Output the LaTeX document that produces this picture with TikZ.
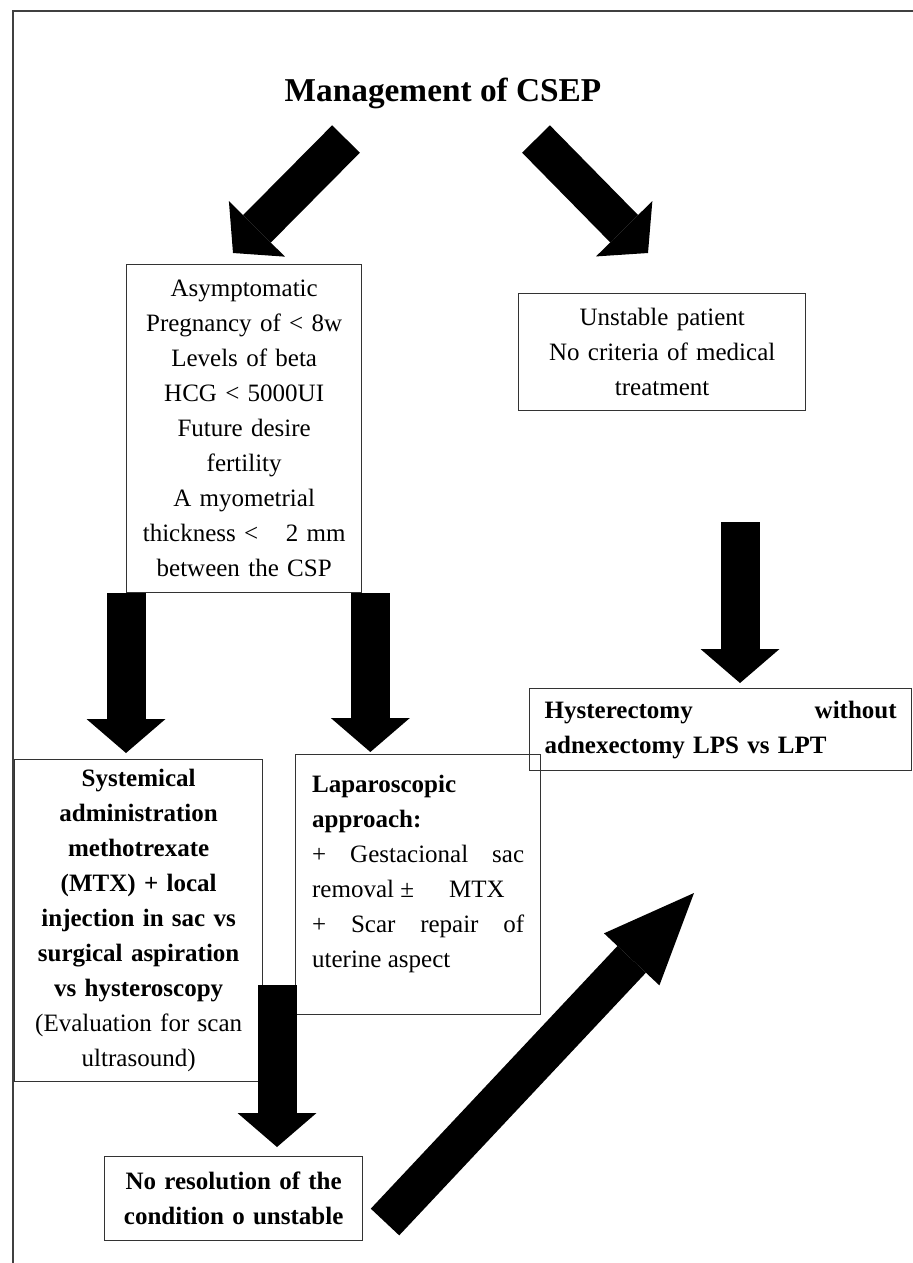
\documentclass[tikz,border=0pt]{standalone}
\usepackage{fontspec}
\setmainfont{Liberation Serif}
\usetikzlibrary{arrows.meta,calc,positioning}

\tikzset{
  box/.style={draw=black!80, line width=0.8pt, inner ysep=0pt, anchor=north west,
    font=\fontsize{15}{21}\selectfont},
  fat/.style={line width=23.4pt, -{Triangle[length=20.4pt, width=47.4pt, line width=0pt]}},
  bigfat/.style={line width=23.4pt, -{Triangle[length=54.6pt, width=45.6pt, line width=0pt]}},
}

\begin{document}
\begin{tikzpicture}[x=0.6pt, y=-0.6pt]
\useasboundingbox (0,0) rectangle (913,1263);
% page frame (top and left only)
\draw[black!75, line width=0.8pt] (13,1263) -- (13,11) -- (913,11);

% title
\node[font=\bfseries\fontsize{20}{24}\selectfont, anchor=base] (title) at (443,101) {Management of CSEP};

% boxes
\node[box, minimum width=141pt, minimum height=196.8pt, text width=134pt, align=center] (asym) at (126,264)
  {Asymptomatic\\ Pregnancy of < 8w\\ Levels of beta\\ HCG < 5000UI\\ Future desire\\ fertility\\
   A myometrial\\ thickness <\hspace{1.1em}2 mm\\ between the CSP};
\node[box, minimum width=172.2pt, minimum height=70.2pt, text width=164pt, align=center] (unst) at (518,293)
  {Unstable patient\\ No criteria of medical\\ treatment};
\node[box, minimum width=229.2pt, minimum height=49.2pt, text width=211.2pt, inner xsep=9pt, align=left,
  font=\bfseries\fontsize{15}{21}\selectfont] (hyst) at (529,688)
  {\hbox to 211.2pt{Hysterectomy\hfill without}\\ adnexectomy LPS vs LPT};
\node[box, minimum width=148.8pt, minimum height=193.2pt, text width=142pt, align=center] (syst) at (14,759)
  {\textbf{Systemical}\\ \textbf{administration}\\ \textbf{methotrexate}\\ \textbf{(MTX) + local}\\
   \textbf{injection in sac vs}\\ \textbf{surgical aspiration}\\ \textbf{vs hysteroscopy}\\
   (Evaluation for scan\\ ultrasound)};
\node[box, minimum width=147pt, minimum height=156pt, inner xsep=9.9pt] (lapa) at (295,754)
  {\parbox[c][132pt][t]{127.2pt}{\textbf{Laparoscopic}\\ \textbf{approach:}\\
   \hbox to 127.2pt{+\hfill Gestacional\hfill sac}\\ removal ±\hspace{1.4em}MTX\\
   \hbox to 127.2pt{+\hfill Scar\hfill repair\hfill of}\\ uterine aspect}};
\node[box, minimum width=154.8pt, minimum height=50.4pt, text width=146pt, align=center,
  font=\bfseries\fontsize{15}{21}\selectfont] (nores) at (104,1156)
  {No resolution of the\\ condition o unstable};

% arrow ends
\coordinate (a1s) at (346,139);
\coordinate (a1e) at (233,253);
\coordinate (a2s) at (536,139);
\coordinate (a2e) at (648,253);
\coordinate (a3e) at ([yshift=3.6pt]asym.south west |- syst.north);
\coordinate (a4s) at ([xshift=4.8pt]asym.south east);
\coordinate (a4e) at ([yshift=1.2pt]a4s |- lapa.north);
\coordinate (a5s) at (740,522);
\coordinate (a5e) at ([yshift=3pt]a5s |- hyst.north);
\coordinate (a6s) at (277,985);
\coordinate (a6e) at ([yshift=5.4pt]a6s |- nores.north);
\coordinate (a7s) at (385,1222);
\coordinate (a7e) at (694,893);

% block arrows
\draw[fat] (a1s) -- (a1e);
\draw[fat] (a2s) -- (a2e);
\draw[fat] (asym.south west) -- (a3e);
\draw[fat] (a4s) -- (a4e);
\draw[fat] (a5s) -- (a5e);
\draw[fat] (a6s) -- (a6e);
\draw[bigfat] (a7s) -- (a7e);
\end{tikzpicture}
\end{document}
